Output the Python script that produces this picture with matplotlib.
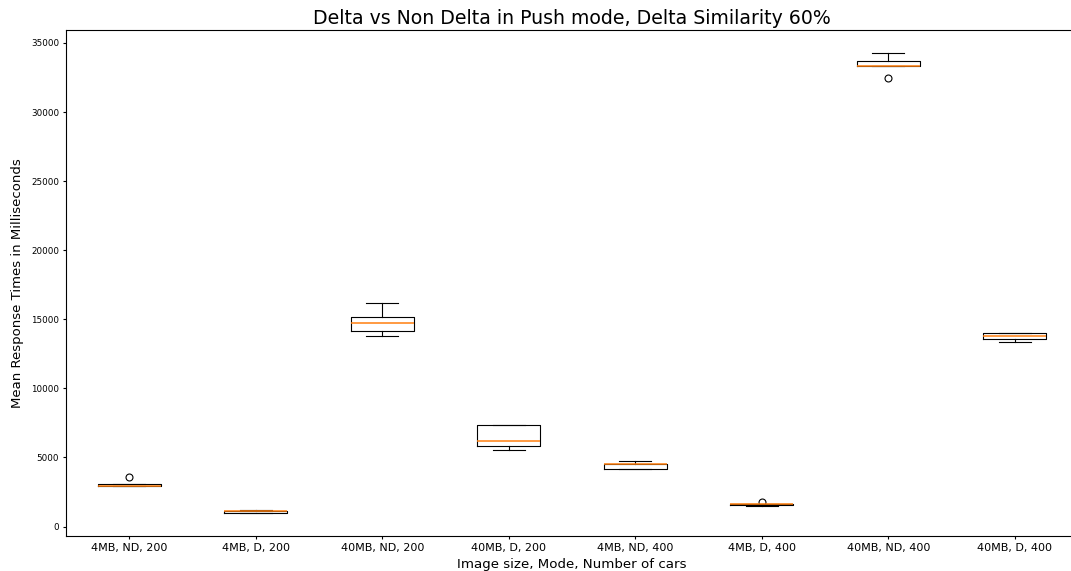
import matplotlib
matplotlib.use("Agg")
import matplotlib.pyplot as plt

# Summary statistics per configuration (milliseconds)
labels = ["4MB, ND, 200", "4MB, D, 200", "40MB, ND, 200", "40MB, D, 200",
          "4MB, ND, 400", "4MB, D, 400", "40MB, ND, 400", "40MB, D, 400"]
whislo = [2900, 980, 13770, 5570, 4150, 1520, 33330, 13360]
q1 = [2920, 1010, 14130, 5860, 4200, 1550, 33330, 13600]
med = [2960, 1100, 14740, 6170, 4490, 1600, 33350, 13820]
q3 = [3050, 1160, 15200, 7330, 4560, 1640, 33700, 14020]
whishi = [3080, 1180, 16190, 7380, 4730, 1660, 34270, 14020]
fliers = [[3550], [], [], [], [], [1810], [32450], []]

stats = []
for i, lab in enumerate(labels):
    stats.append(dict(label=lab, whislo=whislo[i], q1=q1[i], med=med[i],
                      q3=q3[i], whishi=whishi[i], fliers=fliers[i]))

lw = 0.8
fig = plt.figure(figsize=(10.71, 5.71), dpi=100)
ax = fig.add_axes([66 / 1071, 1 - 536 / 571, (1078 - 66) / 1071, (536 - 30) / 571])
ax.bxp(stats, positions=range(1, len(labels) + 1), widths=0.5,
       boxprops=dict(linewidth=lw), whiskerprops=dict(linewidth=lw),
       capprops=dict(linewidth=lw), medianprops=dict(linewidth=1.1),
       flierprops=dict(markersize=5, markeredgewidth=lw))

ax.set_title("Delta vs Non Delta in Push mode, Delta Similarity 60%",
             fontsize=13.6, pad=4.5)
ax.set_xlabel("Image size, Mode, Number of cars", fontsize=9.6, labelpad=3.5)
ax.set_ylabel("Mean Response Times in Milliseconds", fontsize=9.5, labelpad=5)
ax.tick_params(axis="both", length=2.5, pad=2.5, width=lw)
ax.tick_params(axis="x", labelsize=8)
ax.tick_params(axis="y", labelsize=6.3)
for s in ax.spines.values():
    s.set_linewidth(lw)

fig.savefig("out.png", dpi=100)
